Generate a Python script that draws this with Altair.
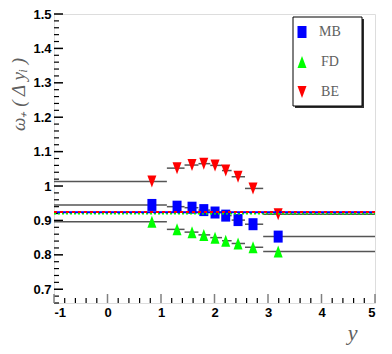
import altair as alt
import pandas as pd

# ---- data ----
series_names = ["MB", "FD", "BE"]
series_colors = ["#0000ff", "#00ff00", "#ff0000"]
x_pos = [0.83, 1.30, 1.58, 1.80, 2.01, 2.21, 2.44, 2.72, 3.19]
bin_lo = [-1.0, 1.11, 1.44, 1.70, 1.92, 2.14, 2.32, 2.57, 2.91]
bin_hi = [1.11, 1.44, 1.70, 1.92, 2.14, 2.32, 2.57, 2.91, 5.0]
mb_vals = [0.945, 0.940, 0.937, 0.930, 0.923, 0.914, 0.901, 0.889, 0.853]
fd_vals = [0.896, 0.874, 0.866, 0.858, 0.850, 0.841, 0.833, 0.822, 0.810]
be_vals = [1.013, 1.052, 1.061, 1.065, 1.060, 1.045, 1.027, 0.993, 0.918]
ref_levels = [0.9240, 0.9205, 0.9243]  # MB, FD, BE dotted reference lines

x_major = [-1, 0, 1, 2, 3, 4, 5]
x_minor = [round(-1 + 0.2 * i, 2) for i in range(31) if i % 5 != 0]
y_major = [0.7, 0.8, 0.9, 1.0, 1.1, 1.2, 1.3, 1.4, 1.5]
y_minor = [round(0.66 + 0.02 * i, 2) for i in range(43) if round(0.66 + 0.02 * i, 2) not in y_major]

shapes = {
    "MB": "M-0.75,-1L0.75,-1L0.75,1L-0.75,1Z",
    "FD": "M0,-1L0.75,1L-0.75,1Z",
    "BE": "M-0.75,-1L0.75,-1L0,1Z",
}

W, H = 321, 289
xs = alt.Scale(domain=[-1, 5], nice=False, zero=False)
ys = alt.Scale(domain=[0.66, 1.5], nice=False, zero=False)

xaxis = alt.Axis(values=x_major, labelExpr="'' + datum.value", tickSize=0, domain=False, grid=False,
                 labelFont="Liberation Sans Narrow, Liberation Sans, sans-serif", labelFontWeight="bold",
                 labelFontSize=13, labelColor="black", labelPadding=3,
                 title="y", titleFont="Liberation Serif", titleFontStyle="italic", titleFontWeight="normal",
                 titleFontSize=22, titleColor="#606060", titleX=298, titleY=36, titleAlign="center",
                 titleBaseline="alphabetic")
yaxis = alt.Axis(values=y_major, labelExpr="format(datum.value, '.1~f')", tickSize=0, domain=False, grid=False,
                 labelFont="Liberation Sans Narrow, Liberation Sans, sans-serif", labelFontWeight="bold",
                 labelFontSize=13, labelColor="black", labelPadding=3,
                 title="ω₊  ( Δ yᵢ )", titleFont="Liberation Serif", titleFontStyle="italic",
                 titleFontWeight="normal",
                 titleFontSize=19, titleColor="#606060", titleAngle=270, titleX=-36, titleY=80,
                 titleAlign="center", titleBaseline="middle")

vals = {"MB": mb_vals, "FD": fd_vals, "BE": be_vals}
rows = []
for s in series_names:
    for xp, lo, hi, v in zip(x_pos, bin_lo, bin_hi, vals[s]):
        rows.append({"series": s, "x": xp, "lo": lo, "hi": hi, "v": v})
df = pd.DataFrame(rows)

layers = []

# tick marks (inside the frame)
ymaj = alt.Chart(pd.DataFrame({"t": y_major})).mark_rule(color="black", strokeWidth=1.5).encode(
    y=alt.Y("t:Q", scale=ys, axis=yaxis), x=alt.value(0), x2=alt.value(9))
ymin = alt.Chart(pd.DataFrame({"t": y_minor})).mark_rule(color="black", strokeWidth=1.2).encode(
    y=alt.Y("t:Q", scale=ys, axis=yaxis), x=alt.value(0), x2=alt.value(5))
xmaj = alt.Chart(pd.DataFrame({"t": x_major})).mark_rule(color="#808080", strokeWidth=1.5).encode(
    x=alt.X("t:Q", scale=xs, axis=xaxis), y=alt.value(H), y2=alt.value(H - 9))
xmin = alt.Chart(pd.DataFrame({"t": x_minor})).mark_rule(color="black", strokeWidth=1.2).encode(
    x=alt.X("t:Q", scale=xs, axis=xaxis), y=alt.value(H), y2=alt.value(H - 5))
layers += [ymaj, ymin, xmaj, xmin]

# horizontal bin lines
bins = alt.Chart(df).mark_rule(color="#555555", strokeWidth=1.5).encode(
    x=alt.X("lo:Q", scale=xs, axis=xaxis), x2="hi:Q", y=alt.Y("v:Q", scale=ys, axis=yaxis))
layers.append(bins)

# markers
for s, c in zip(series_names, series_colors):
    pts = alt.Chart(df[df.series == s]).mark_point(
        shape=shapes[s], filled=True, size=144, color=c, opacity=1, strokeWidth=0).encode(
        x=alt.X("x:Q", scale=xs, axis=xaxis), y=alt.Y("v:Q", scale=ys, axis=yaxis))
    layers.append(pts)

# dotted reference lines
ref_df = pd.DataFrame({"series": series_names, "level": ref_levels})
dash_cfg = {"MB": ([3, 3], 3), "FD": ([2, 2], 0), "BE": ([3, 3], 0)}
for s, c in zip(["FD", "MB", "BE"], ["#00ff00", "#0000ff", "#ff0000"]):
    d, off = dash_cfg[s]
    r = alt.Chart(ref_df[ref_df.series == s]).mark_rule(
        color=c, strokeWidth=2, strokeDash=d, strokeDashOffset=off).encode(
        y=alt.Y("level:Q", scale=ys, axis=yaxis), x=alt.value(0), x2=alt.value(W))
    layers.append(r)

# legend box with shadow
one = alt.Data(values=[{}])
shadow = alt.Chart(one).mark_rect(color="#303030").encode(
    x=alt.value(241), x2=alt.value(310), y=alt.value(5), y2=alt.value(94))
box = alt.Chart(one).mark_rect(fill="white", stroke="black", strokeWidth=1).encode(
    x=alt.value(239), x2=alt.value(308), y=alt.value(3), y2=alt.value(92))
layers += [shadow, box]
for i, (s, c) in enumerate(zip(series_names, series_colors)):
    ly = 18 + 30 * i
    sym = alt.Chart(one).mark_point(shape=shapes[s], filled=True, size=144, color=c, opacity=1,
                                    strokeWidth=0).encode(x=alt.value(248), y=alt.value(ly))
    txt = alt.Chart(one).mark_text(text=s, font="Liberation Serif", fontSize=14, color="#606060",
                                   align="center", baseline="middle").encode(
        x=alt.value(276), y=alt.value(ly))
    layers += [sym, txt]

chart = alt.layer(*layers).properties(
    width=W, height=H,
    padding={"left": 46, "top": 6, "right": 9, "bottom": 43},
    autosize=alt.AutoSizeParams(type="none"),
).configure_view(stroke="black", strokeWidth=3).configure(background="white")

chart.save("out.html", embed_options={"renderer": "svg", "actions": False})
